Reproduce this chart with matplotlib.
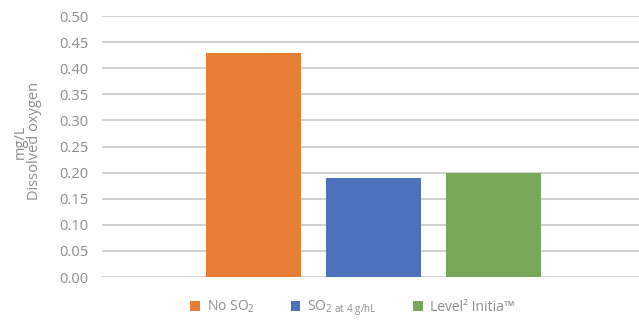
import numpy as np
import matplotlib
matplotlib.use("Agg")
import matplotlib.pyplot as plt

plt.rcParams['font.family'] = ['Open Sans', 'DejaVu Sans']
plt.rcParams['mathtext.fontset'] = 'custom'
plt.rcParams['mathtext.rm'] = 'Open Sans'

# data
categories = ["No SO$_2$", "SO$_{2\\ \\mathrm{at\\ 4\\ g/hL}}$", "Level² Initia™"]
values = [0.43, 0.19, 0.20]
colors = ["#E67F35", "#4A73BC", "#78A75A"]
yticks = [0.00, 0.05, 0.10, 0.15, 0.20, 0.25, 0.30, 0.35, 0.40, 0.45, 0.50]

fig = plt.figure(figsize=(6.39, 3.23), dpi=100)
ax = fig.add_axes([0.16, 0.1424, 0.84, 0.808])

x = np.arange(len(values))
bars = ax.bar(x, values, width=0.79, color=colors, zorder=3, label=categories)

ax.set_ylim(0, 0.5)
ax.set_xlim(-1.26, 3.21)
ax.set_yticks(yticks)
ax.set_yticklabels(["%.2f" % v for v in yticks])
ax.set_xticks([])
ax.yaxis.grid(True, color="#c8c8c8", linewidth=1.2, zorder=0)
for s in ax.spines.values():
    s.set_visible(False)
ax.tick_params(axis='y', length=0, pad=10, labelsize=10.5, labelcolor="#8c8c8c")
ax.set_ylabel("mg/L\nDissolved oxygen", color="#8c8c8c", fontsize=10.5,
              linespacing=0.95)
ax.yaxis.set_label_coords(-0.112, 0.52)

fig.legend(bars, categories, loc='center', bbox_to_anchor=(0.551, 0.045), ncol=3,
           frameon=False, handlelength=0.7, handleheight=0.7, handletextpad=0.5,
           columnspacing=2.6, fontsize=10, labelcolor="#8c8c8c")

fig.savefig("out.png", dpi=100)
